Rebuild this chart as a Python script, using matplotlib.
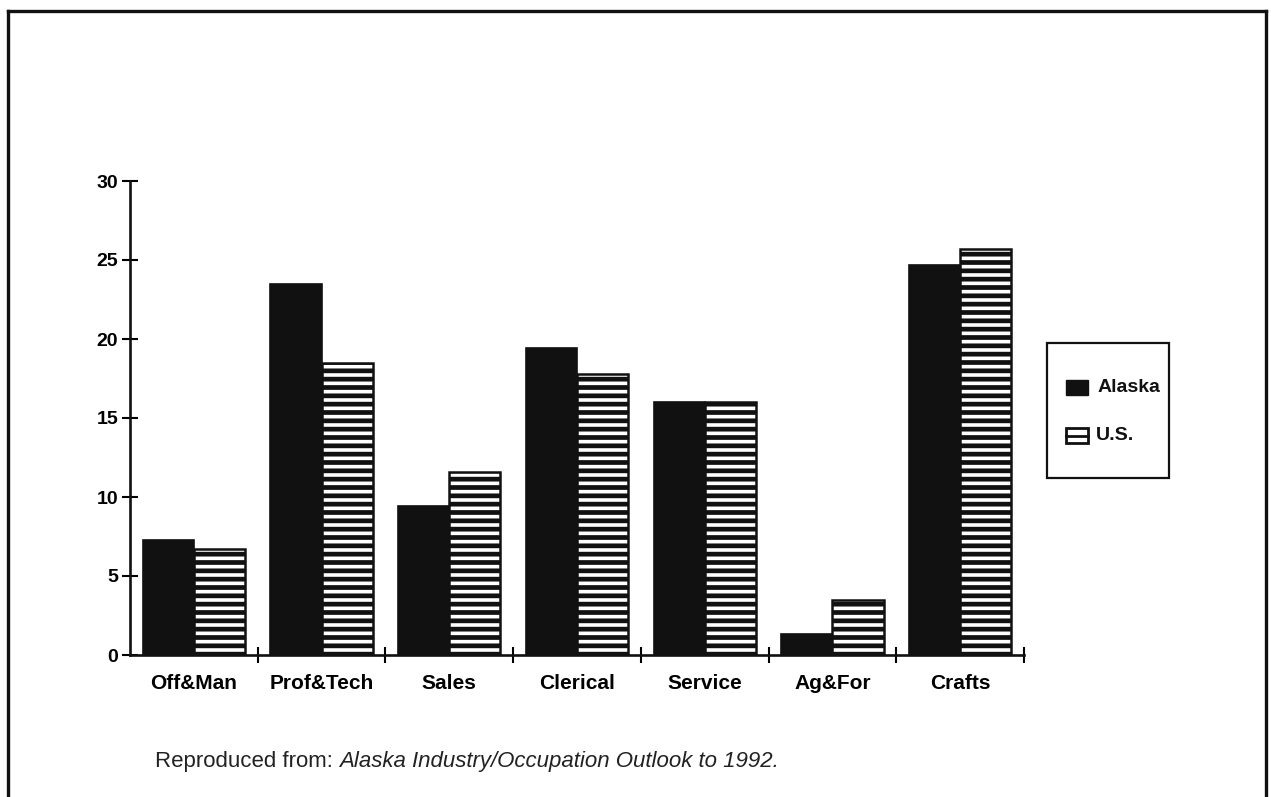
import numpy as np
import matplotlib
matplotlib.use("Agg")
import matplotlib.pyplot as plt
from matplotlib.lines import Line2D
from matplotlib.patches import Rectangle

# values (percent of employment)
categories = ["Off&Man", "Prof&Tech", "Sales", "Clerical", "Service", "Ag&For", "Crafts"]
alaska = [7.3, 23.5, 9.4, 19.4, 16.0, 1.3, 24.7]
us = [6.7, 18.5, 11.6, 17.8, 16.0, 3.5, 25.7]
yticks = [0, 5, 10, 15, 20, 25, 30]
series_names = ["Alaska", "U.S."]

plt.rcParams['font.family'] = ['Liberation Sans', 'DejaVu Sans']
plt.rcParams['hatch.linewidth'] = 3.4
plt.rcParams['hatch.color'] = '#111111'

W, H = 1271, 797
fig = plt.figure(figsize=(W / 100, H / 100), dpi=100)
fig.patch.set_facecolor('white')


def px(x0, y0):
    # pixel position (from top left) -> figure fraction
    return x0 / W, 1 - y0 / H


# axes placed in pixel terms of the reference
ax = fig.add_axes([130 / W, 1 - 655 / H, 894 / W, 474 / H])
x = np.arange(len(categories))
bw = 0.4
ax.bar(x - bw / 2, alaska, bw, color='#111111', edgecolor='#111111', linewidth=1.2)
ax.bar(x + bw / 2, us, bw, color='white', edgecolor='#111111', hatch='--', linewidth=1.8)

ax.set_xlim(-0.5, len(categories) - 0.5)
ax.set_ylim(0, 30)
for s in ['top', 'right']:
    ax.spines[s].set_visible(False)
for s in ['left', 'bottom']:
    ax.spines[s].set_linewidth(1.9)
    ax.spines[s].set_color('#111111')

ax.set_yticks(yticks)
ax.set_yticklabels([str(v) for v in yticks], fontsize=14, fontweight='bold')
ax.tick_params(axis='y', direction='inout', length=11, width=1.5, pad=3)

# boundary ticks on the x axis, labels centred on the categories
ax.set_xticks(np.arange(len(categories)) + 0.5)
ax.set_xticklabels([])
ax.tick_params(axis='x', which='major', direction='inout', length=12, width=1.5)
ax.set_xticks(x, minor=True)
ax.set_xticklabels(categories, minor=True, fontsize=15, fontweight='bold')
ax.tick_params(axis='x', which='minor', length=0, pad=14)

# legend box drawn by hand to match the scanned layout
lx0, ly0 = px(1047, 478)
lx1, ly1 = px(1169, 343)
fig.add_artist(Rectangle((lx0, ly0), lx1 - lx0, ly1 - ly0, transform=fig.transFigure,
                         facecolor='white', edgecolor='#111111', linewidth=1.6))
kw, kh = 22 / W, 15 / H
# Alaska key
kx, ky = px(1066, 395)
fig.add_artist(Rectangle((kx, ky), kw, kh, transform=fig.transFigure,
                         facecolor='#111111', edgecolor='#111111', linewidth=1))
fig.text(*px(1098, 388), series_names[0], fontsize=14, fontweight='bold',
         va='center', ha='left', color='#111111')
# U.S. key
kx, ky = px(1066, 443)
fig.add_artist(Rectangle((kx, ky), kw, kh, transform=fig.transFigure,
                         facecolor='white', edgecolor='#111111', linewidth=2.0))
fig.add_artist(Line2D([kx, kx + kw], [ky + kh / 2, ky + kh / 2], transform=fig.transFigure,
                      color='#111111', linewidth=2.0))
fig.text(*px(1096, 436), series_names[1], fontsize=14, fontweight='bold',
         va='center', ha='left', color='#111111')

# caption
renderer = fig.canvas.get_renderer()
t1 = fig.text(*px(155, 762), "Reproduced from: ", fontsize=16,
              color='#222222', va='center', ha='left')
bb = t1.get_window_extent(renderer=renderer)
fig.text(bb.x1 / W, 1 - 762 / H, "Alaska Industry/Occupation Outlook to 1992.",
         fontsize=16, style='italic', color='#222222', va='center', ha='left')

# page frame (open at the bottom)
fx0, fx1, fy = 8 / W, 1266 / W, 1 - 11 / H
for xs, ys in [([fx0, fx0], [0, fy]), ([fx0, fx1], [fy, fy]), ([fx1, fx1], [fy, 0])]:
    fig.add_artist(Line2D(xs, ys, transform=fig.transFigure, color='#111111', linewidth=2.4))

fig.savefig('out.png', dpi=100)
